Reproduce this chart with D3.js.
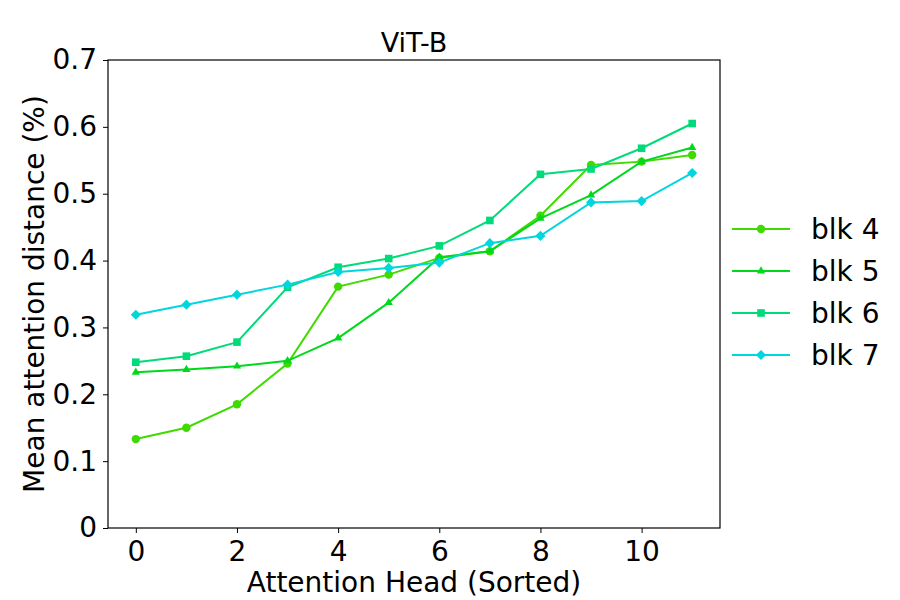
<!DOCTYPE html>
<html>
<head>
<meta charset="utf-8">
<script src="https://cdn.jsdelivr.net/npm/d3@7"></script>
<style>
  body { margin: 0; background: #fff; }
  text { font-family: "DejaVu Sans", sans-serif; fill: #000; }
</style>
</head>
<body>
<script>
const heads = d3.range(12);
const blk4 = [0.133, 0.150, 0.185, 0.246, 0.361, 0.379, 0.404, 0.414, 0.467, 0.543, 0.548, 0.558];
const blk5 = [0.233, 0.237, 0.242, 0.250, 0.284, 0.337, 0.405, 0.414, 0.463, 0.498, 0.548, 0.569];
const blk6 = [0.248, 0.257, 0.278, 0.360, 0.390, 0.403, 0.422, 0.460, 0.529, 0.537, 0.568, 0.605];
const blk7 = [0.319, 0.334, 0.349, 0.364, 0.383, 0.389, 0.397, 0.426, 0.437, 0.487, 0.489, 0.531];
const names = ["blk 4", "blk 5", "blk 6", "blk 7"];
const colors = ["#3fdb00", "#00d81c", "#00db7a", "#00d6de"];
const series = [blk4, blk5, blk6, blk7];
const yTicks = [0, 0.1, 0.2, 0.3, 0.4, 0.5, 0.6, 0.7];
const xTicks = [0, 2, 4, 6, 8, 10];

const W = 900, H = 600;
const m = {left: 108, right: 180, top: 60, bottom: 72};

// matplotlib-like markers: o, ^, s, D
function marker(g, k) {
    if (k === 0) g.append("circle").attr("r", 4.2).attr("fill", colors[k]);
    else if (k === 1) g.append("path").attr("d", d3.symbol().type(d3.symbolTriangle).size(30)).attr("fill", colors[k]);
    else if (k === 2) g.append("rect").attr("x", -3.8).attr("y", -3.8).attr("width", 7.6).attr("height", 7.6).attr("fill", colors[k]);
    else g.append("rect").attr("x", -3.6).attr("y", -3.6).attr("width", 7.2).attr("height", 7.2).attr("transform", "rotate(45)").attr("fill", colors[k]);
}

const svg = d3.select("body").append("svg")
    .attr("width", W)
    .attr("height", H);

const x = d3.scaleLinear().domain([-0.55, 11.55]).range([m.left, W - m.right]);
const y = d3.scaleLinear().domain([0, 0.7]).range([H - m.bottom, m.top]);

// axes
const xAxis = svg.append("g")
    .attr("transform", `translate(0,${H - m.bottom})`)
    .call(d3.axisBottom(x).tickValues(xTicks).tickSize(5).tickPadding(6).tickFormat(d3.format("d")));
const yAxis = svg.append("g")
    .attr("transform", `translate(${m.left},0)`)
    .call(d3.axisLeft(y).tickValues(yTicks).tickSize(5).tickPadding(6).tickFormat(d => d === 0 ? "0" : d3.format(".1f")(d)));
[xAxis, yAxis].forEach(a => {
    a.select(".domain").remove();
    a.selectAll("line").attr("stroke", "#000").attr("stroke-width", 1);
    a.selectAll("text").style("font-size", "28px").attr("fill", "#000");
});
xAxis.selectAll("text").attr("dy", "0.8em");

// frame
svg.append("rect")
    .attr("x", m.left).attr("y", m.top)
    .attr("width", W - m.right - m.left)
    .attr("height", H - m.bottom - m.top)
    .attr("fill", "none").attr("stroke", "#000").attr("stroke-width", 1.2);

const line = d3.line().x((d, i) => x(heads[i])).y(d => y(d));

series.forEach((s, k) => {
    svg.append("path")
        .datum(s)
        .attr("d", line)
        .attr("fill", "none")
        .attr("stroke", colors[k])
        .attr("stroke-width", 2);
    svg.selectAll(".pt" + k)
        .data(s)
        .enter()
        .append("g")
        .attr("transform", (d, i) => `translate(${x(heads[i])},${y(d)})`)
        .each(function() { marker(d3.select(this), k); });
});

// labels
svg.append("text")
    .attr("x", (m.left + W - m.right) / 2).attr("y", 52)
    .attr("text-anchor", "middle")
    .style("font-size", "27px")
    .text("ViT-B");
svg.append("text")
    .attr("x", (m.left + W - m.right) / 2).attr("y", 592)
    .attr("text-anchor", "middle")
    .style("font-size", "28px")
    .text("Attention Head (Sorted)");
svg.append("text")
    .attr("transform", `translate(44,${(m.top + H - m.bottom) / 2}) rotate(-90)`)
    .attr("text-anchor", "middle")
    .style("font-size", "28px")
    .text("Mean attention distance (%)");

// legend
const legend = svg.append("g");
names.forEach((n, k) => {
    const ly = 229 + k * 42;
    legend.append("line")
        .attr("x1", 732).attr("x2", 790).attr("y1", ly).attr("y2", ly)
        .attr("stroke", colors[k]).attr("stroke-width", 2);
    marker(legend.append("g").attr("transform", `translate(761,${ly})`), k);
    legend.append("text")
        .attr("x", 811).attr("y", ly)
        .attr("dy", "0.36em")
        .style("font-size", "28px")
        .text(n);
});
</script>
</body>
</html>
